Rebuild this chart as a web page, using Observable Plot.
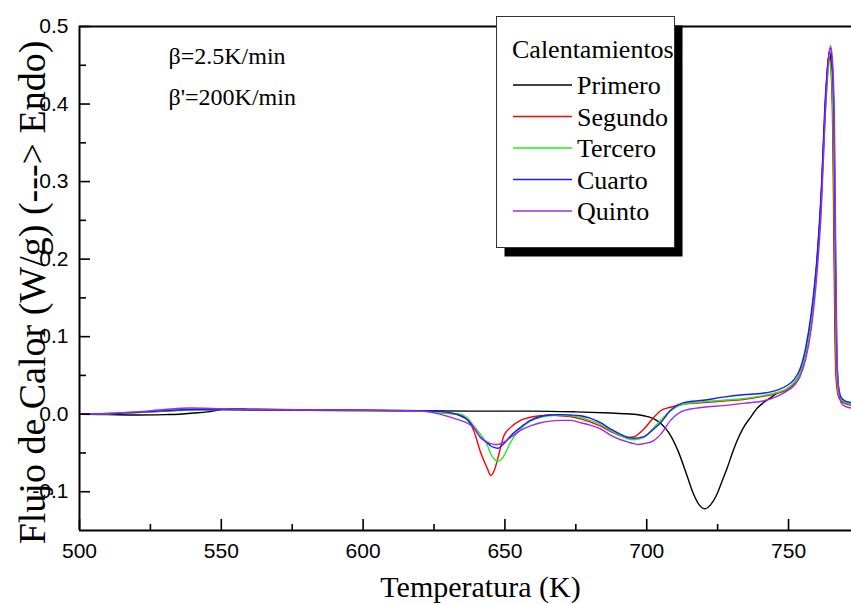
<!DOCTYPE html>
<html>
<head>
<meta charset="utf-8">
<script src="https://cdn.jsdelivr.net/npm/d3@7"></script>
<script src="https://cdn.jsdelivr.net/npm/@observablehq/plot@0.6"></script>
<style>
  html, body { margin: 0; padding: 0; background: #fff; }
  #chart { width: 851px; height: 605px; }
</style>
</head>
<body>
<div id="chart"></div>
<script>
// ---- Data ----
const seriesNames = ["Primero", "Segundo", "Tercero", "Cuarto", "Quinto"];
const seriesColors = ["#000000", "#ff0000", "#22ee22", "#1a1aff", "#9a2cf0"];
const legendTitle = "Calentamientos";
const xLabel = "Temperatura (K)";
const yLabel = "Flujo de Calor (W/g) (---> Endo)";
const notes = ["β=2.5K/min", "β'=200K/min"];

const xMajorTicks = [500, 550, 600, 650, 700, 750];
const xMinorTicks = [525, 575, 625, 675, 725];
const yMajorTicks = [-0.1, 0.0, 0.1, 0.2, 0.3, 0.4, 0.5];
const yMinorTicks = [-0.05, 0.05, 0.15, 0.25, 0.35, 0.45];

// Primero (black)
const tPrimero = [500, 510, 520, 530, 535, 540, 545, 550, 553, 560, 580, 600, 620, 640, 660, 675, 687.2, 693, 699, 702, 705, 708, 711, 714, 716.5, 718.5, 720.5, 722.5, 724.8, 726.5, 728.4, 730, 731.9, 734, 736.6, 739, 741.2, 744, 746, 749.5, 752, 754, 756, 758, 760, 761.5, 763, 764.4, 765.2, 765.8, 766.2, 766.6, 767.2, 768, 770, 772.2];
const qPrimero = [0.0, -0.0005, -0.001, -0.0005, 0.0, 0.0015, 0.003, 0.006, 0.007, 0.0065, 0.0055, 0.005, 0.0045, 0.004, 0.004, 0.003, 0.0015, 0.0005, -0.002, -0.005, -0.012, -0.025, -0.047, -0.077, -0.103, -0.117, -0.122, -0.117, -0.103, -0.087, -0.069, -0.052, -0.034, -0.018, -0.004, 0.008, 0.015, 0.022, 0.027, 0.032, 0.040, 0.052, 0.078, 0.124, 0.195, 0.278, 0.40, 0.468, 0.44, 0.35, 0.21, 0.09, 0.035, 0.02, 0.014, 0.012];

// Segundo (red)
const tSegundo = [500, 510, 520, 530, 540, 550, 560, 580, 600, 620, 627, 634, 637, 639, 641.4, 643.8, 645, 646.3, 647.5, 649.6, 652, 655.5, 659, 662.6, 666, 669.6, 673, 676.7, 680, 683.7, 687.2, 690.8, 693.5, 695.5, 699, 702.5, 704.9, 708.4, 713.1, 720, 727, 734, 741, 746, 749.5, 752, 754, 756, 758, 760, 761.5, 763, 764.2, 765, 765.6, 766, 766.4, 767, 768, 770, 772.2];
const qSegundo = [0.0, 0.0005, 0.002, 0.004, 0.006, 0.006, 0.0055, 0.005, 0.0045, 0.004, 0.002, -0.001, -0.008, -0.021, -0.049, -0.070, -0.079, -0.072, -0.057, -0.028, -0.017, -0.008, -0.004, -0.002, -0.001, -0.002, -0.003, -0.006, -0.010, -0.015, -0.022, -0.028, -0.030, -0.029, -0.019, -0.004, 0.0045, 0.009, 0.013, 0.015, 0.017, 0.019, 0.023, 0.027, 0.032, 0.040, 0.052, 0.078, 0.125, 0.195, 0.28, 0.40, 0.462, 0.44, 0.36, 0.22, 0.09, 0.035, 0.02, 0.014, 0.012];

// Tercero (green)
const tTercero = [500, 510, 520, 530, 540, 550, 560, 580, 600, 620, 627, 634.3, 637, 639, 641.4, 643.8, 645, 646.3, 647.5, 649.6, 652, 655.5, 659, 662.6, 666, 669.6, 673, 676.7, 680, 683.7, 687.2, 690.8, 693.5, 695.5, 699, 702.5, 704.9, 708.4, 713.1, 720, 727, 734, 741, 746, 749.5, 752, 754, 756, 758, 760, 761.5, 763, 764.5, 765.3, 765.9, 766.3, 766.7, 767.3, 768, 770, 772.2];
const qTercero = [0.0, 0.0005, 0.002, 0.004, 0.0055, 0.006, 0.0055, 0.005, 0.0045, 0.004, 0.002, 0.0, -0.006, -0.015, -0.026, -0.040, -0.051, -0.058, -0.061, -0.054, -0.036, -0.019, -0.009, -0.004, -0.002, -0.001, -0.002, -0.004, -0.008, -0.013, -0.021, -0.028, -0.032, -0.033, -0.030, -0.017, -0.008, 0.0045, 0.013, 0.016, 0.018, 0.020, 0.024, 0.028, 0.033, 0.041, 0.053, 0.078, 0.122, 0.19, 0.27, 0.39, 0.455, 0.43, 0.34, 0.21, 0.09, 0.035, 0.022, 0.015, 0.013];

// Cuarto (blue)
const tCuarto = [500, 510, 520, 530, 540, 550, 560, 580, 600, 620, 627, 634.3, 637, 639, 641.4, 643.8, 645, 646.3, 647.5, 649.6, 652, 655.5, 659, 662.6, 666, 669.6, 673, 676.7, 680, 683.7, 687.2, 690.8, 693.5, 695.5, 699, 702.5, 704.9, 708.4, 713.1, 720, 727, 734, 741, 746, 749.5, 752, 754, 756, 758, 760, 761.5, 763, 764.7, 765.5, 766.1, 766.5, 766.9, 767.5, 768.5, 770, 772.2];
const qCuarto = [0.0, 0.0008, 0.0025, 0.0045, 0.006, 0.006, 0.0055, 0.005, 0.005, 0.0045, 0.0036, -0.002, -0.008, -0.017, -0.030, -0.037, -0.041, -0.043, -0.044, -0.038, -0.028, -0.017, -0.008, -0.003, -0.001, -0.0005, -0.001, -0.002, -0.005, -0.011, -0.019, -0.026, -0.030, -0.031, -0.029, -0.019, -0.011, 0.005, 0.015, 0.018, 0.022, 0.025, 0.027, 0.031, 0.037, 0.045, 0.058, 0.085, 0.13, 0.20, 0.285, 0.41, 0.472, 0.445, 0.36, 0.22, 0.10, 0.04, 0.022, 0.017, 0.015];

// Quinto (purple)
const tQuinto = [500, 510, 520, 530, 538.8, 550, 560, 580, 600, 620, 627, 630, 634.3, 637, 639, 641.4, 643.8, 645, 646.3, 647.5, 649.6, 652, 655.5, 659, 662.6, 666, 669.6, 673, 676.7, 680, 683.7, 687.2, 690.8, 693.5, 695.5, 697, 699, 702.5, 704.9, 708.4, 713.1, 720, 727, 734, 741, 746, 749.5, 752, 754, 756, 758, 760, 761.5, 763, 764.8, 765.6, 766.2, 766.6, 767, 767.6, 768.5, 770, 772.2];
const qQuinto = [0.0, 0.001, 0.003, 0.006, 0.008, 0.007, 0.006, 0.0055, 0.005, 0.004, 0.0, -0.003, -0.008, -0.012, -0.017, -0.030, -0.036, -0.038, -0.039, -0.039, -0.036, -0.030, -0.021, -0.015, -0.011, -0.009, -0.008, -0.008, -0.011, -0.014, -0.019, -0.027, -0.033, -0.036, -0.038, -0.039, -0.038, -0.034, -0.026, -0.008, 0.0045, 0.009, 0.011, 0.014, 0.017, 0.023, 0.030, 0.037, 0.048, 0.07, 0.11, 0.18, 0.26, 0.39, 0.475, 0.45, 0.37, 0.23, 0.10, 0.035, 0.015, 0.010, 0.008];

// ---- Build table for the library ----
const seriesT = [tPrimero, tSegundo, tTercero, tCuarto, tQuinto];
const seriesQ = [qPrimero, qSegundo, qTercero, qCuarto, qQuinto];
const rows = [];
seriesNames.forEach((name, i) => {
  seriesT[i].forEach((t, j) => rows.push({serie: name, T: t, q: seriesQ[i][j]}));
});

const W = 851, H = 605;
const mL = 79, mR = 0, mT = 26, mB = 75;
const frameW = W - mL - mR, frameH = H - mT - mB;
const serif = "'Liberation Serif', 'Times New Roman', serif";
const sans = "'Liberation Sans', Arial, sans-serif";

const chart = Plot.plot({
  width: W, height: H,
  marginLeft: mL, marginRight: mR, marginTop: mT, marginBottom: mB,
  style: {fontFamily: sans, fontSize: "21px", background: "#fff", overflow: "visible"},
  x: {domain: [500, 772.2], label: null},
  y: {domain: [-0.15, 0.5], label: null},
  color: {domain: seriesNames, range: seriesColors},
  marks: [
    Plot.line(rows, {x: "T", y: "q", z: "serie", stroke: "serie", strokeWidth: 1.4, curve: "monotone-x"}),
    // inward ticks
    Plot.tickX(xMajorTicks, {x: d => d, insetTop: frameH - 11, stroke: "#000", strokeWidth: 1.6}),
    Plot.tickX(xMinorTicks, {x: d => d, insetTop: frameH - 6, stroke: "#000", strokeWidth: 1.6}),
    Plot.tickY(yMajorTicks, {y: d => d, insetRight: frameW - 11, stroke: "#000", strokeWidth: 1.6}),
    Plot.tickY(yMinorTicks, {y: d => d, insetRight: frameW - 7, stroke: "#000", strokeWidth: 1.6}),
    // axis lines and top frame
    Plot.ruleX([500], {stroke: "#000", strokeWidth: 2}),
    Plot.ruleY([-0.15], {stroke: "#000", strokeWidth: 2}),
    Plot.ruleY([0.5], {stroke: "#000", strokeWidth: 2}),
    // tick labels
    Plot.axisX({ticks: xMajorTicks, tickSize: 0, tickPadding: 13, tickFormat: d => String(d), label: null}),
    Plot.axisY({ticks: yMajorTicks, tickSize: 0, tickPadding: 11, tickFormat: d => d.toFixed(1), label: null}),
    // titles
    Plot.text([xLabel], {frameAnchor: "bottom", dx: 15, dy: 57, lineAnchor: "middle", fontSize: 30, fontFamily: serif, fill: "#000"}),
    Plot.text([yLabel], {frameAnchor: "left", dx: -47, dy: 14, rotate: -90, textAnchor: "middle", lineAnchor: "middle", fontSize: 38, fontFamily: serif, fill: "#000"}),
    // annotations
    Plot.text([notes[0]], {frameAnchor: "top-left", dx: 89, dy: 30, textAnchor: "start", lineAnchor: "middle", fontSize: 24, fontFamily: serif, fill: "#000"}),
    Plot.text([notes[1]], {frameAnchor: "top-left", dx: 89, dy: 71, textAnchor: "start", lineAnchor: "middle", fontSize: 24, fontFamily: serif, fill: "#000"})
  ]
});

// ---- Legend box (drawn into the plot's SVG) ----
const svg = d3.select(chart);
const lg = svg.append("g").attr("class", "legend");
const bx = 496.5, by = 16.5, bw = 178, bh = 231;
lg.append("rect").attr("x", bx + 8).attr("y", by + 9).attr("width", bw).attr("height", bh).attr("fill", "#000");
lg.append("rect").attr("x", bx).attr("y", by).attr("width", bw).attr("height", bh)
  .attr("fill", "#fff").attr("stroke", "#333").attr("stroke-width", 1);
lg.append("text").attr("x", 512).attr("y", 58).attr("font-family", serif).attr("font-size", 26)
  .attr("text-anchor", "start").attr("fill", "#000").text(legendTitle);
seriesNames.forEach((name, i) => {
  const yy = 85 + i * 31.5;
  lg.append("line").attr("x1", 513).attr("x2", 572).attr("y1", yy).attr("y2", yy)
    .attr("stroke", seriesColors[i]).attr("stroke-width", 1.4);
  lg.append("text").attr("x", 577).attr("y", yy + 9).attr("font-family", serif).attr("font-size", 26)
    .attr("text-anchor", "start").attr("fill", "#000").text(name);
});

document.getElementById("chart").appendChild(chart);
</script>
</body>
</html>
